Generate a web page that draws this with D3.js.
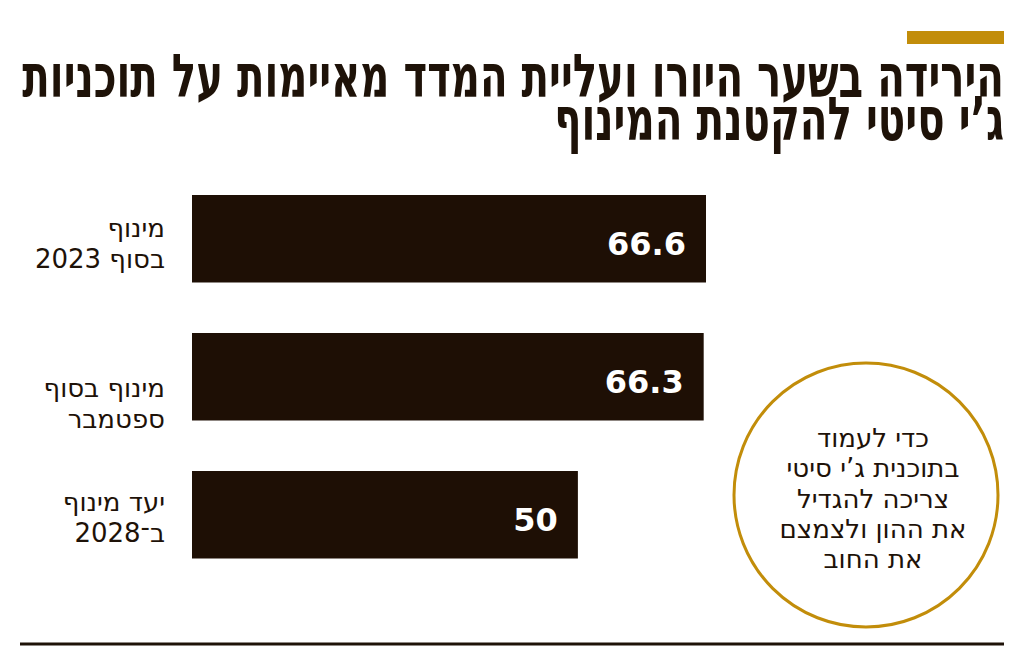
<!DOCTYPE html>
<html>
<head>
	<meta charset="utf-8">
	<title>ג'י סיטי - מינוף</title>
	<script src="https://cdn.jsdelivr.net/npm/d3@7"></script>
	<style>
		*{
			padding: 0;
			margin: 0;
		}
		body{
			background: #fff;
		}
		svg{
			display: block;
		}
		.title{
			font-family: "DejaVu Sans Condensed", "DejaVu Sans", sans-serif;
			font-weight: bold;
			font-size: 46px;
			fill: #1e1208;
		}
		.cat{
			font-family: "DejaVu Sans", sans-serif;
			font-size: 26px;
			fill: #1e1208;
		}
		.val{
			font-family: "DejaVu Sans", sans-serif;
			font-weight: bold;
			font-size: 32px;
			fill: #fff;
		}
		.note{
			font-family: "DejaVu Sans", sans-serif;
			font-size: 26px;
			fill: #1e1208;
		}
	</style>
</head>
<body>
	<svg id="chart" width="1024" height="648"></svg>
	<script type="text/javascript">
		// נתונים
		var categories = ["2023", "sep", "2028"];
		var values = [66.6, 66.3, 50];
		var valueLabels = ["66.6", "66.3", "50"];
		var catLabels = [
			["מינוף", "בסוף 2023"],
			["מינוף בסוף", "ספטמבר"],
			["יעד מינוף", "ב־2028"]
		];
		var titleLines = [
			"הירידה בשער היורו ועליית המדד מאיימות על תוכניות",
			"ג’י סיטי להקטנת המינוף"
		];
		var noteLines = [
			"כדי לעמוד",
			"בתוכנית ג’י סיטי",
			"צריכה להגדיל",
			"את ההון ולצמצם",
			"את החוב"
		];

		var width = 1024,
			height = 648,
			barColor = "#1e0f05",
			gold = "#c28d0a",
			labelShift = [0, 22, -2]; // הזזה אנכית של התוויות

		var svg = d3.select("#chart");

		// פס זהב עליון
		svg.append("rect")
			.attr("x", 907).attr("y", 31)
			.attr("width", 97).attr("height", 13)
			.attr("fill", gold);

		// כותרת - מתיחה לרוחב הנכון
		var titleRight = 1004,
			titleWidths = [982, 450],
			titleBase = [97, 140];
		titleLines.forEach(function (t, i) {
			var g = svg.append("g");
			var txt = g.append("text")
				.attr("class", "title")
				.attr("direction", "rtl")
				.attr("text-anchor", "start")
				.attr("x", 0)
				.attr("y", 0)
				.text(t);
			var w = txt.node().getComputedTextLength();
			var sx = titleWidths[i] / w;
			g.attr("transform", "translate(" + titleRight + "," + titleBase[i] + ") scale(" + sx + ",1.3)");
		});

		var x = d3.scaleLinear().domain([0, 66.6]).range([192, 706]);
		var y = d3.scaleBand().domain(categories).range([195, 558.5]).paddingInner(0.366).paddingOuter(0);

		var bars = svg.append("g").attr("class", "bars");
		bars.selectAll("rect")
			.data(values)
			.enter().append("rect")
			.attr("x", x(0))
			.attr("y", function (d, i) { return y(categories[i]); })
			.attr("width", function (d) { return x(d) - x(0); })
			.attr("height", y.bandwidth())
			.attr("fill", barColor);

		bars.selectAll(".val")
			.data(values)
			.enter().append("text")
			.attr("class", "val")
			.attr("text-anchor", "end")
			.attr("x", function (d) { return x(d) - 20; })
			.attr("y", function (d, i) { return y(categories[i]) + y.bandwidth() / 2 + 16; })
			.text(function (d, i) { return valueLabels[i]; });

		// תוויות הקטגוריות
		var cats = svg.append("g").attr("class", "cats");
		catLabels.forEach(function (lines, i) {
			var cy = y(categories[i]) + y.bandwidth() / 2 + labelShift[i];
			lines.forEach(function (l, j) {
				cats.append("text")
					.attr("class", "cat")
					.attr("direction", "rtl")
					.attr("text-anchor", "start")
					.attr("x", 165)
					.attr("y", cy - 2 + j * 31)
					.text(l);
			});
		});

		// עיגול הערה
		var cx = 866, cyc = 495;
		svg.append("circle")
			.attr("cx", cx).attr("cy", cyc).attr("r", 132)
			.attr("fill", "none")
			.attr("stroke", gold)
			.attr("stroke-width", 3);
		svg.append("g").selectAll("text")
			.data(noteLines)
			.enter().append("text")
			.attr("class", "note")
			.attr("direction", "rtl")
			.attr("text-anchor", "middle")
			.attr("x", cx + 7)
			.attr("y", function (d, i) { return 447 + i * 30.3; })
			.text(function (d) { return d; });

		// קו תחתון
		svg.append("line")
			.attr("x1", 20).attr("x2", 1004)
			.attr("y1", 644).attr("y2", 644)
			.attr("stroke", "#1e1208")
			.attr("stroke-width", 3);
	</script>
</body>
</html>
